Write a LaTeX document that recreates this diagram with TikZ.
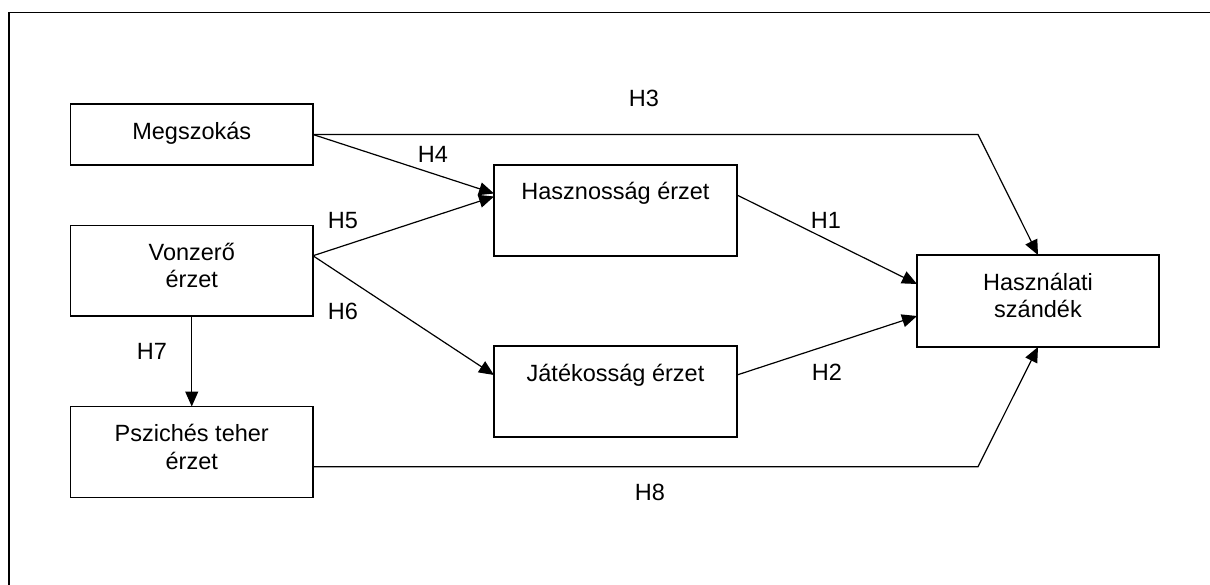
\documentclass[tikz,border=0pt]{standalone}
\usepackage{fontspec}
\setmainfont{Liberation Sans}
\usetikzlibrary{arrows.meta}
\begin{document}
\begin{tikzpicture}[x=1pt,y=-1pt,
  box/.style={draw, line width=1.2pt, inner sep=0pt, outer sep=0pt, minimum width=242.5pt},
  lbl/.style={anchor=base, inner sep=0pt, font=\fontsize{23.5}{27.5}\selectfont},
  conn/.style={line width=1.2pt},
  arr/.style={conn, -{Triangle[length=15pt,width=13pt]}}]
\clip (0,0) rectangle (1210,584);
\draw[line width=1.3pt] (9,600) -- (9,12.3) -- (1230,12.3);

% boxes
\node[box, minimum height=61pt] (meg) at (191.75,134.5) {};
\node[box, minimum height=90.5pt] (vonz) at (191.75,270.75) {};
\node[box, minimum height=91pt] (psz) at (191.75,452) {};
\node[box, minimum width=243pt, minimum height=91pt] (hasz) at (615.5,210.5) {};
\node[box, minimum width=243pt, minimum height=91pt] (jat) at (615.5,391.5) {};
\node[box, minimum width=242pt, minimum height=92pt] (hasn) at (1038,301) {};

% box texts
\node[lbl] (megT) at (191.75,139.3) {Megszokás};
\node[lbl] (vonzT) at (191.75,260) {\begin{tabular}[t]{@{}c@{}}Vonzerő\\érzet\end{tabular}};
\node[lbl] (pszT) at (191.75,441.7) {\begin{tabular}[t]{@{}c@{}}Pszichés teher\\érzet\end{tabular}};
\node[lbl] (haszT) at (615.5,199.3) {Hasznosság érzet};
\node[lbl] (jatT) at (615.5,381.7) {Játékosság érzet};
\node[lbl] (hasnT) at (1038,290) {\begin{tabular}[t]{@{}c@{}}Használati\\szándék\end{tabular}};

% corner points
\coordinate (c3) at (978,0);
\coordinate (c8) at (978,0);

% connectors
\draw[arr] (meg.east) -- (meg.east -| c3) -- (hasn.north);
\draw[arr] (meg.east) -- ([yshift=17pt]hasz.west);
\draw[arr] ([yshift=15pt]vonz.east) -- ([yshift=14pt]hasz.west);
\draw[arr] ([yshift=15pt]vonz.east) -- ([yshift=16.5pt]jat.west);
\draw[arr] ([yshift=15.5pt]hasz.east) -- ([yshift=17pt]hasn.west);
\draw[arr] ([yshift=16.5pt]jat.east) -- ([yshift=-15pt]hasn.west);
\draw[arr] (vonz.south) -- (psz.north);
\draw[arr] ([yshift=-14.7pt]psz.east) -- ([yshift=-14.7pt]psz.east -| c8) -- (hasn.south);

% hypothesis labels
\node[lbl] (h3) at (644,106.7) {H3};
\node[lbl] (h4) at (433,162.7) {H4};
\node[lbl] (h5) at (343,228.3) {H5};
\node[lbl] (h6) at (343,319.3) {H6};
\node[lbl] (h1) at (826,228.3) {H1};
\node[lbl] (h2) at (827,380) {H2};
\node[lbl] (h7) at (152,359.3) {H7};
\node[lbl] (h8) at (650,500.7) {H8};
\end{tikzpicture}
\end{document}
